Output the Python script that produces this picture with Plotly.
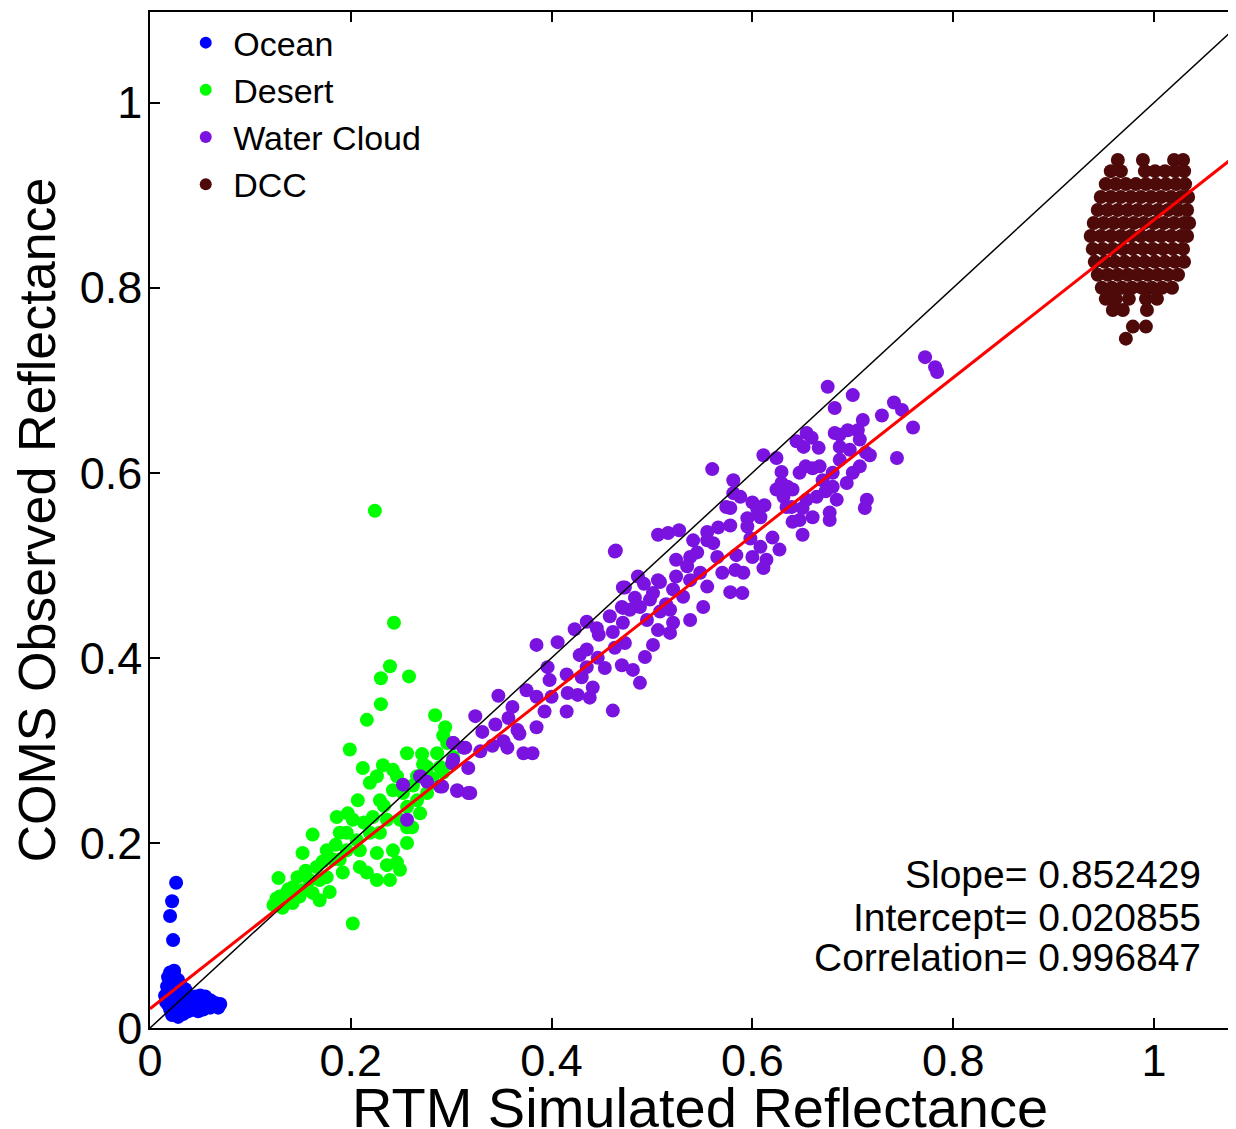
import plotly.graph_objects as go

# ---------------- data ----------------
ocean_x = [0.026, 0.022, 0.020, 0.023,
           0.020, 0.024, 0.018, 0.025, 0.021, 0.028, 0.017, 0.023, 0.030, 0.035, 0.019, 0.027, 0.032,
           0.020, 0.025, 0.030, 0.035, 0.040, 0.045, 0.050, 0.055, 0.060, 0.065, 0.070, 0.068, 0.060,
           0.055, 0.050, 0.045, 0.040, 0.035, 0.030, 0.025, 0.020, 0.022, 0.028, 0.033, 0.038, 0.043,
           0.048, 0.053, 0.030, 0.018, 0.015, 0.016, 0.042, 0.058, 0.062]
ocean_y = [0.157, 0.137, 0.121, 0.095,
           0.060, 0.062, 0.055, 0.055, 0.050, 0.052, 0.045, 0.046, 0.047, 0.042, 0.040, 0.040, 0.038,
           0.030, 0.032, 0.030, 0.031, 0.033, 0.034, 0.035, 0.034, 0.030, 0.027, 0.026, 0.022, 0.022,
           0.025, 0.028, 0.027, 0.025, 0.024, 0.022, 0.023, 0.020, 0.014, 0.012, 0.015, 0.018, 0.020,
           0.018, 0.020, 0.018, 0.025, 0.035, 0.028, 0.030, 0.027, 0.024]

desert_x = [0.224, 0.243, 0.239, 0.230, 0.258, 0.230, 0.216, 0.284, 0.294, 0.292, 0.199, 0.256,
            0.271, 0.212, 0.232, 0.242, 0.162, 0.152, 0.128, 0.147, 0.123, 0.202, 0.169, 0.179,
            0.142, 0.197, 0.207, 0.219, 0.226, 0.239, 0.226, 0.236, 0.246, 0.242, 0.256, 0.261,
            0.269, 0.209, 0.216, 0.189, 0.196, 0.182, 0.176, 0.166, 0.159, 0.152, 0.136, 0.129,
            0.142, 0.176, 0.192, 0.209, 0.219, 0.222, 0.229, 0.242, 0.252, 0.256, 0.266, 0.276,
            0.282, 0.289, 0.276, 0.266, 0.246, 0.236, 0.249, 0.256, 0.229, 0.202, 0.186, 0.196,
            0.206, 0.226, 0.249, 0.189, 0.169, 0.162, 0.149, 0.296, 0.286, 0.302, 0.292, 0.132,
            0.126, 0.138, 0.155, 0.172, 0.185, 0.213, 0.233, 0.262, 0.272, 0.281]
desert_y = [0.559, 0.438, 0.391, 0.378, 0.380, 0.350, 0.333, 0.338, 0.325, 0.316, 0.301, 0.297,
            0.296, 0.281, 0.284, 0.279, 0.209, 0.189, 0.162, 0.163, 0.133, 0.113, 0.138, 0.147,
            0.135, 0.232, 0.246, 0.265, 0.272, 0.160, 0.160, 0.176, 0.179, 0.192, 0.200, 0.217,
            0.232, 0.174, 0.168, 0.211, 0.192, 0.182, 0.192, 0.174, 0.160, 0.149, 0.146, 0.142,
            0.152, 0.163, 0.168, 0.192, 0.211, 0.228, 0.246, 0.257, 0.254, 0.239, 0.246, 0.254,
            0.265, 0.282, 0.282, 0.272, 0.272, 0.225, 0.225, 0.217, 0.211, 0.225, 0.228, 0.211,
            0.203, 0.189, 0.171, 0.182, 0.160, 0.146, 0.142, 0.308, 0.297, 0.293, 0.276, 0.130,
            0.140, 0.150, 0.170, 0.180, 0.198, 0.222, 0.240, 0.262, 0.285, 0.270]

water_x = [0.252, 0.269, 0.276, 0.289, 0.306, 0.317, 0.302, 0.312, 0.301, 0.256,
           0.291, 0.306, 0.319, 0.317, 0.302, 0.314, 0.302, 0.329, 0.356, 0.372, 0.381,
           0.324, 0.331, 0.344, 0.357, 0.366, 0.385, 0.347, 0.361, 0.375, 0.385, 0.393,
           0.400, 0.398, 0.415, 0.416, 0.426, 0.438, 0.441, 0.461, 0.415, 0.430, 0.435,
           0.396, 0.385, 0.406, 0.423, 0.435, 0.445, 0.428, 0.435, 0.446, 0.453, 0.470,
           0.481, 0.488, 0.493, 0.463, 0.473, 0.461, 0.471, 0.471, 0.488, 0.495, 0.501,
           0.518, 0.521, 0.506, 0.508, 0.518, 0.538, 0.501, 0.521, 0.508, 0.473,
           0.464, 0.471, 0.486, 0.506, 0.516, 0.527, 0.506, 0.524, 0.538, 0.541, 0.555,
           0.566, 0.561, 0.578, 0.581, 0.560, 0.588, 0.600, 0.612, 0.595, 0.608, 0.578,
           0.565, 0.548, 0.555, 0.578, 0.590, 0.551, 0.538, 0.584, 0.598, 0.608, 0.620,
           0.627, 0.614, 0.600, 0.611, 0.591, 0.583, 0.570, 0.531, 0.514, 0.498, 0.478,
           0.470, 0.611, 0.624, 0.629, 0.631, 0.639, 0.640, 0.647, 0.635, 0.653, 0.660,
           0.667, 0.670, 0.680, 0.687, 0.680, 0.684, 0.664, 0.654, 0.650, 0.660, 0.647,
           0.640, 0.677, 0.677, 0.650, 0.673, 0.694, 0.700, 0.707, 0.713, 0.697, 0.687,
           0.687, 0.695, 0.705, 0.710, 0.717, 0.714, 0.712, 0.700, 0.682, 0.675, 0.659,
           0.651, 0.666, 0.644, 0.654, 0.682, 0.707, 0.729, 0.741, 0.749, 0.744, 0.760,
           0.772, 0.782, 0.784, 0.629, 0.624, 0.634, 0.581, 0.574, 0.595, 0.605, 0.555,
           0.545, 0.535, 0.524, 0.463, 0.341, 0.352, 0.368, 0.447, 0.458, 0.483, 0.492]
water_y = [0.263, 0.272, 0.266, 0.261, 0.257, 0.254, 0.308, 0.303, 0.286, 0.225,
           0.261, 0.256, 0.254, 0.281, 0.290, 0.303, 0.308, 0.299, 0.303, 0.297, 0.297,
           0.337, 0.320, 0.328, 0.335, 0.322, 0.325, 0.359, 0.347, 0.365, 0.358, 0.342,
           0.358, 0.376, 0.342, 0.362, 0.360, 0.357, 0.368, 0.343, 0.382, 0.379, 0.390,
           0.390, 0.414, 0.417, 0.431, 0.439, 0.432, 0.403, 0.409, 0.400, 0.389, 0.392,
           0.387, 0.373, 0.401, 0.411, 0.416, 0.428, 0.438, 0.454, 0.455, 0.441, 0.414,
           0.427, 0.438, 0.430, 0.450, 0.452, 0.441, 0.470, 0.474, 0.482, 0.476,
           0.516, 0.476, 0.488, 0.533, 0.535, 0.538, 0.484, 0.488, 0.509, 0.527, 0.536,
           0.541, 0.524, 0.562, 0.592, 0.604, 0.574, 0.568, 0.565, 0.551, 0.552, 0.543,
           0.509, 0.492, 0.477, 0.471, 0.470, 0.455, 0.484, 0.511, 0.529, 0.520, 0.530,
           0.517, 0.506, 0.509, 0.497, 0.492, 0.495, 0.492, 0.466, 0.458, 0.463, 0.452,
           0.455, 0.619, 0.616, 0.589, 0.574, 0.563, 0.582, 0.600, 0.585, 0.607, 0.605,
           0.607, 0.592, 0.600, 0.614, 0.585, 0.571, 0.574, 0.571, 0.562, 0.552, 0.549,
           0.547, 0.557, 0.549, 0.533, 0.580, 0.589, 0.600, 0.607, 0.622, 0.625, 0.628,
           0.641, 0.646, 0.646, 0.657, 0.619, 0.571, 0.562, 0.684, 0.670, 0.693, 0.638,
           0.628, 0.627, 0.634, 0.643, 0.643, 0.636, 0.662, 0.676, 0.668, 0.616, 0.649,
           0.725, 0.714, 0.709, 0.601, 0.582, 0.563, 0.578, 0.563, 0.542, 0.560, 0.527,
           0.514, 0.499, 0.506, 0.515, 0.305, 0.310, 0.318, 0.425, 0.445, 0.465, 0.480]

# DCC cloud: rows of (observed reflectance, simulated reflectances read across the blob)
dcc_rows = [
    (0.938, [0.964, 0.989, 1.020, 1.029]),
    (0.926, [0.957, 0.967, 0.991, 1.001, 1.011, 1.021, 1.030]),
    (0.912, [0.952, 0.962, 0.972, 0.982, 0.992, 1.002, 1.012, 1.022, 1.031]),
    (0.898, [0.947, 0.957, 0.967, 0.977, 0.987, 0.997, 1.007, 1.017, 1.027, 1.034]),
    (0.884, [0.944, 0.954, 0.964, 0.974, 0.984, 0.994, 1.004, 1.014, 1.024, 1.033]),
    (0.870, [0.940, 0.950, 0.960, 0.970, 0.980, 0.990, 1.000, 1.010, 1.020, 1.030, 1.035]),
    (0.856, [0.937, 0.947, 0.957, 0.967, 0.977, 0.987, 0.997, 1.007, 1.017, 1.027, 1.033]),
    (0.842, [0.939, 0.949, 0.959, 0.969, 0.979, 0.989, 0.999, 1.009, 1.019, 1.029]),
    (0.828, [0.941, 0.951, 0.961, 0.971, 0.981, 0.991, 1.001, 1.011, 1.021, 1.030]),
    (0.814, [0.944, 0.954, 0.964, 0.974, 0.984, 0.994, 1.004, 1.014, 1.024]),
    (0.800, [0.948, 0.958, 0.968, 0.978, 0.988, 0.998, 1.008, 1.018]),
    (0.788, [0.952, 0.962, 0.975, 0.992, 1.003]),
    (0.776, [0.959, 0.969, 0.993]),
    (0.758, [0.979, 0.992]),
    (0.745, [0.972]),
]
dcc_x = [x for _, xs in dcc_rows for x in xs]
dcc_y = [y for y, xs in dcc_rows for _ in xs]

# regression statistics shown on the chart
fit_slope = 0.852429
fit_intercept = 0.020855
fit_correlation = 0.996847

x_max = 1.0817
y_max = 1.098
tick_vals = [0, 0.2, 0.4, 0.6, 0.8, 1]
tick_text = ["0", "0.2", "0.4", "0.6", "0.8", "1"]

series = [
    ("Ocean", ocean_x, ocean_y, "#0000ff"),
    ("Desert", desert_x, desert_y, "#00ff00"),
    ("Water Cloud", water_x, water_y, "#7a12e0"),
    ("DCC", dcc_x, dcc_y, "#4e0909"),
]

FONT = "Arial, Liberation Sans, sans-serif"

fig = go.Figure()
for name, xs, ys, col in series:
    fig.add_trace(go.Scatter(x=xs, y=ys, mode="markers", name=name,
                             marker=dict(color=col, size=14, line=dict(width=0))))

# 1:1 line
line_x = [0, x_max]
fig.add_trace(go.Scatter(x=line_x, y=line_x, mode="lines", showlegend=False,
                         line=dict(color="black", width=1.5)))
# regression line
fig.add_trace(go.Scatter(x=line_x, y=[fit_slope * v + fit_intercept for v in line_x],
                         mode="lines", showlegend=False,
                         line=dict(color="#ff0000", width=3)))

axis_common = dict(showline=True, linecolor="black", linewidth=1.5,
                   ticks="inside", ticklen=10, tickwidth=1.5, tickcolor="black",
                   showgrid=False, zeroline=False, tickvals=tick_vals, ticktext=tick_text,
                   tickfont=dict(family=FONT, size=45, color="black"))

fig.update_layout(
    width=1228, height=1121,
    margin=dict(l=142, r=0, t=4, b=101),
    paper_bgcolor="white", plot_bgcolor="white",
    font=dict(family=FONT, color="black"),
    xaxis=dict(range=[0, x_max], ticklabelstandoff=-8, mirror="ticks", **axis_common),
    yaxis=dict(range=[0, y_max], ticklabelstandoff=-3, mirror=False,
               title=dict(text="COMS Observed Reflectance",
                          font=dict(family=FONT, size=52), standoff=12), **axis_common),
    legend=dict(x=0.026, y=0.998, xanchor="left", yanchor="top",
                bgcolor="rgba(0,0,0,0)", font=dict(family=FONT, size=34),
                itemwidth=45, itemsizing="constant"),
    showlegend=True,
)

# x-axis title placed as a text annotation under the tick labels
fig.add_annotation(text="RTM Simulated Reflectance", xref="paper", yref="paper",
                   x=0.506, y=-0.078, xanchor="center", yanchor="middle", showarrow=False,
                   font=dict(family=FONT, size=56, color="black"))

stat_lines = [("Slope= %.6f" % fit_slope, 0.1506),
              ("Intercept= %.6f" % fit_intercept, 0.109),
              ("Correlation= %.6f" % fit_correlation, 0.0689)]
for txt, yy in stat_lines:
    fig.add_annotation(text=txt, xref="paper", yref="paper", x=0.970, y=yy,
                       xanchor="right", yanchor="middle", showarrow=False,
                       font=dict(family=FONT, size=39, color="black"))

fig.write_html("out.html")
